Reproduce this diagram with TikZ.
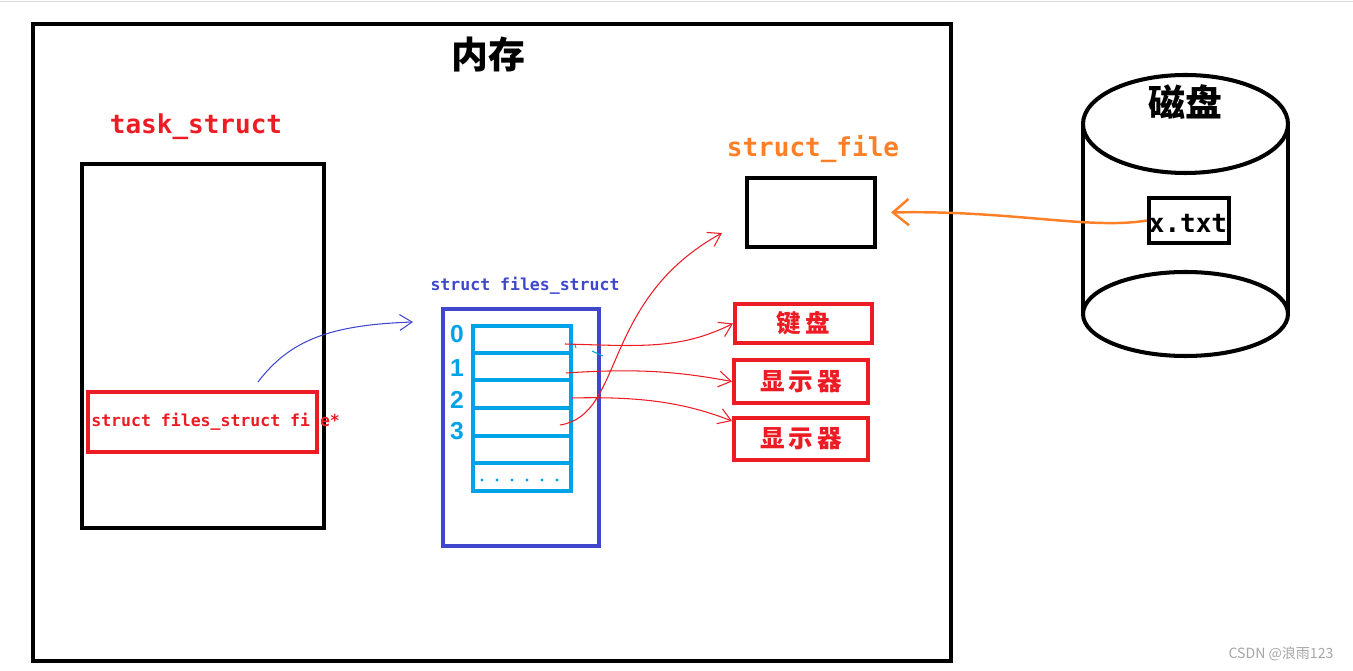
\documentclass[tikz,border=0pt]{standalone}
\usepackage{fontspec}
\setmainfont{Liberation Sans}
\setmonofont{DejaVu Sans Mono}
\newfontfamily\cjk{Noto Sans CJK SC}
\usetikzlibrary{arrows.meta}
\definecolor{cred}{RGB}{237,28,36}
\definecolor{cblue}{RGB}{63,72,204}
\definecolor{ccyan}{RGB}{0,162,232}
\definecolor{corange}{RGB}{255,127,39}
\begin{document}
\begin{tikzpicture}[x=0.02cm,y=-0.02cm,
  thickbox/.style={line width=2.3pt},
  blackbox/.style={thickbox,draw=black},
  redbox/.style={thickbox,draw=cred,text=cred,inner sep=0pt,font=\cjk\bfseries\fontsize{14}{16}\selectfont},
  monolabel/.style={font=\ttfamily\bfseries\fontsize{14.8}{17}\selectfont,inner sep=0pt},
  smallmono/.style={font=\ttfamily\bfseries\fontsize{9.4}{11}\selectfont,inner sep=0pt},
  num/.style={text=ccyan,font=\bfseries\fontsize{14}{16}\selectfont,inner sep=0pt},
  redarrow/.style={draw=cred,line width=0.6pt,-{Straight Barb[length=7pt,width=9pt]}},
  cjktitle/.style={font=\cjk\bfseries\fontsize{21}{24}\selectfont,inner sep=0pt}
]
\useasboundingbox (0,0) rectangle (1353,671);
\draw[gray!30,line width=0.4pt] (0,1) -- (1353,1);
% memory
\draw[blackbox] (33,24) rectangle (951,661);
\node[cjktitle] (mem) at (488,55) {内存};
% task_struct
\node[monolabel,text=cred] (tslabel) at (196,127) {task\_struct};
\draw[blackbox] (82,164) rectangle (324,528);
\draw[thickbox,draw=cred] (88,392) rectangle (317,452);
\node[smallmono,text=cred,anchor=west] (fstext) at (91,422) {struct files\_struct file*};
\fill[white] (309.5,413) rectangle (321,431);
\draw[thickbox,draw=cred] (317,412) -- (317,432);
\coordinate (bstart) at (258,382);
\coordinate (bend) at (413,322);
\draw[cblue,line width=0.6pt,-{Straight Barb[length=7pt,width=9pt]}] (bstart) .. controls (290,340) and (330,325) .. (bend);
% files_struct
\node[smallmono,text=cblue] (fslabel) at (525,286) {struct files\_struct};
\draw[thickbox,draw=cblue] (443,309) rectangle (599,546);
\draw[thickbox,draw=ccyan] (473,326) rectangle (571,491);
\foreach \y in {353,380,408,436,463} \draw[thickbox,draw=ccyan] (473,\y) -- (571,\y);
\foreach \x in {482,497,512,527,542,557} \fill[ccyan] (\x,480) circle (1.6);
\node[num] (n0) at (457,334) {0};
\node[num] (n1) at (457,368) {1};
\node[num] (n2) at (457,400) {2};
\node[num] (n3) at (457,431) {3};
\draw[ccyan,line width=0.6pt] (575,345) -- (576,348);
\draw[ccyan,line width=0.6pt] (592,351) -- (603,356);
% right column
\node[monolabel,text=corange] (sflabel) at (813,149) {struct\_file};
\node[blackbox,draw,minimum width=128*0.02cm,minimum height=69*0.02cm,inner sep=0pt] (sf) at (811,212.5) {};
\node[redbox,draw,minimum width=137*0.02cm,minimum height=39*0.02cm] (kb) at (803.5,323.5) {键\,盘};
\node[redbox,draw,minimum width=134*0.02cm,minimum height=43*0.02cm] (d1) at (801,381.5) {显\,示\,器};
\node[redbox,draw,minimum width=134*0.02cm,minimum height=42*0.02cm] (d2) at (801,439) {显\,示\,器};
% red arrows
\coordinate (r0) at (565,344);
\coordinate (r1) at (566,373);
\coordinate (r2) at (572,398);
\coordinate (r3) at (560,425);
\draw[redarrow] (r0) .. controls (640,346) and (680,350) .. (kb.west);
\draw[redarrow] (r1) .. controls (640,368) and (680,372) .. (d1.west);
\draw[redarrow] (r2) .. controls (650,396) and (690,405) .. ([yshift=-0.1cm]d2.north west);
\draw[redarrow] (r3) .. controls (625,415) and (600,300) .. (722,233);
% disk
\draw[line width=2.3pt] (1083,124) -- (1083,316);
\draw[line width=2.3pt] (1288,124) -- (1288,316);
\draw[line width=2.3pt,fill=white] (1185.5,314) ellipse (102.5 and 42);
\draw[line width=2.3pt,fill=white] (1185.5,124) ellipse (102.5 and 49);
\node[cjktitle] (disk) at (1185,102) {磁盘};
\node[blackbox,draw,minimum width=80*0.02cm,minimum height=45*0.02cm,inner sep=0pt] (xtxt) at (1189,220.5) {};
\node[monolabel] (xlabel) at (1188,223) {x.txt};
\draw[corange,line width=1.4pt,-{Straight Barb[length=9pt,width=15pt]}] (xtxt.west) .. controls (1090,230) and (1010,210) .. ([xshift=0.28cm]sf.east);
% watermark
\node[text=gray!70,font=\cjk\fontsize{8}{9}\selectfont,inner sep=0pt] (wm) at (1281,654) {CSDN @浪雨123};
\end{tikzpicture}
\end{document}
